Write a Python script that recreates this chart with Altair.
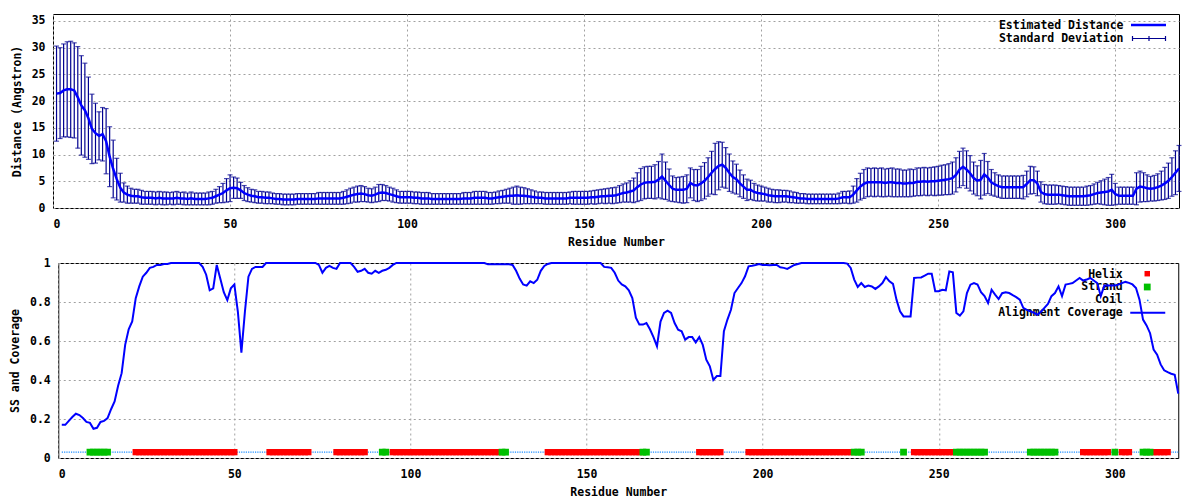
import altair as alt
import pandas as pd

# ---------------- data ----------------
RESIDUES = list(range(1, 319))

EST_DIST = [
    21.4, 21.5, 22.0, 22.2, 22.2, 22.0, 20.7, 19.2, 18.3, 16.8,
    14.8, 14.0, 13.5, 13.8, 12.5, 9.6, 7.3, 5.4, 3.8, 2.9,
    2.5, 2.3, 2.2, 2.2, 2.0, 1.9, 1.9, 1.9, 1.8, 1.9,
    1.8, 1.8, 1.8, 1.8, 1.9, 1.8, 1.8, 1.7, 1.8, 1.7,
    1.7, 1.7, 1.7, 1.8, 1.9, 2.2, 2.5, 2.8, 3.3, 3.7,
    3.8, 3.7, 3.3, 2.8, 2.5, 2.3, 2.2, 2.0, 2.0, 1.9,
    1.9, 1.8, 1.7, 1.7, 1.6, 1.6, 1.6, 1.6, 1.7, 1.7,
    1.7, 1.7, 1.7, 1.7, 1.8, 1.8, 1.8, 1.8, 1.8, 1.8,
    1.8, 1.9, 2.1, 2.3, 2.5, 2.6, 2.7, 2.6, 2.4, 2.3,
    2.5, 2.8, 2.9, 2.8, 2.6, 2.4, 2.2, 2.0, 2.0, 2.0,
    2.0, 1.9, 1.9, 1.8, 1.8, 1.8, 1.7, 1.7, 1.7, 1.7,
    1.7, 1.7, 1.7, 1.7, 1.7, 1.8, 1.8, 1.8, 1.9, 1.9,
    1.9, 1.9, 1.8, 1.8, 1.9, 2.0, 2.1, 2.2, 2.3, 2.3,
    2.4, 2.3, 2.3, 2.2, 2.1, 2.0, 1.9, 1.9, 1.8, 1.8,
    1.8, 1.8, 1.8, 1.8, 1.8, 1.9, 1.9, 1.9, 1.9, 1.9,
    1.9, 2.0, 2.0, 2.1, 2.2, 2.2, 2.3, 2.3, 2.4, 2.6,
    2.8, 2.9, 3.1, 3.3, 3.9, 4.4, 4.7, 4.8, 4.8, 4.9,
    5.3, 5.9, 5.1, 4.3, 3.6, 3.4, 3.4, 3.4, 3.6, 4.7,
    4.3, 4.2, 4.6, 5.1, 5.8, 6.6, 7.3, 7.9, 8.1, 7.5,
    6.6, 5.8, 5.4, 4.6, 4.0, 3.4, 3.4, 3.0, 2.8, 2.7,
    2.6, 2.4, 2.3, 2.2, 2.2, 2.2, 2.2, 2.1, 2.0, 1.9,
    1.8, 1.8, 1.7, 1.7, 1.7, 1.7, 1.7, 1.7, 1.7, 1.7,
    1.7, 1.8, 2.0, 2.0, 2.0, 2.5, 3.3, 4.0, 4.5, 4.8,
    4.8, 4.8, 4.8, 4.8, 4.7, 4.8, 4.8, 4.7, 4.7, 4.6,
    4.6, 4.7, 4.7, 4.9, 4.9, 5.0, 4.9, 5.0, 5.0, 5.1,
    5.2, 5.3, 5.4, 5.6, 6.2, 7.2, 7.7, 7.2, 6.5, 5.6,
    5.1, 5.3, 6.3, 5.7, 4.8, 4.4, 4.1, 3.9, 3.9, 3.9,
    3.9, 3.9, 3.9, 3.9, 4.5, 5.2, 5.2, 4.6, 3.0, 2.6,
    2.5, 2.5, 2.5, 2.5, 2.4, 2.3, 2.2, 2.2, 2.2, 2.2,
    2.2, 2.3, 2.4, 2.6, 2.8, 2.9, 3.0, 3.1, 3.4, 2.6,
    2.3, 2.3, 2.3, 2.3, 2.3, 3.6, 4.0, 3.9, 3.7, 3.6,
    3.7, 3.9, 4.2, 4.6, 5.1, 5.8, 6.6, 7.4,
]

STD_DEV = [
    8.9, 8.5, 8.7, 8.9, 9.0, 8.9, 9.5, 9.3, 8.8, 7.7,
    6.5, 5.6, 4.5, 5.0, 6.1, 5.6, 5.4, 3.9, 2.7, 1.8,
    1.6, 1.4, 1.3, 1.3, 1.3, 1.2, 1.2, 1.2, 1.2, 1.2,
    1.2, 1.2, 1.1, 1.2, 1.2, 1.1, 1.2, 1.1, 1.2, 1.1,
    1.1, 1.1, 1.1, 1.2, 1.2, 1.3, 1.5, 1.8, 2.2, 2.5,
    2.0, 1.9, 1.5, 1.4, 1.3, 1.2, 1.2, 1.1, 1.1, 1.1,
    1.1, 1.0, 1.0, 1.0, 1.0, 1.0, 1.0, 1.0, 1.0, 1.0,
    1.0, 1.0, 1.0, 1.0, 1.1, 1.1, 1.1, 1.1, 1.1, 1.1,
    1.1, 1.2, 1.3, 1.4, 1.4, 1.5, 1.5, 1.4, 1.3, 1.3,
    1.4, 1.6, 1.5, 1.4, 1.3, 1.3, 1.2, 1.1, 1.1, 1.1,
    1.1, 1.1, 1.1, 1.1, 1.1, 1.1, 1.0, 1.0, 1.0, 1.0,
    1.0, 1.0, 1.0, 1.0, 1.0, 1.1, 1.1, 1.1, 1.2, 1.2,
    1.2, 1.2, 1.1, 1.1, 1.1, 1.2, 1.2, 1.3, 1.4, 1.6,
    1.7, 1.6, 1.5, 1.4, 1.3, 1.2, 1.1, 1.1, 1.1, 1.1,
    1.1, 1.1, 1.1, 1.1, 1.1, 1.1, 1.2, 1.2, 1.2, 1.2,
    1.2, 1.2, 1.3, 1.3, 1.3, 1.4, 1.4, 1.5, 1.5, 1.6,
    1.7, 1.8, 2.0, 2.3, 2.7, 3.0, 3.0, 3.0, 3.0, 3.2,
    3.4, 4.2, 3.5, 3.0, 2.4, 2.3, 2.4, 2.5, 2.6, 2.8,
    2.9, 3.0, 3.2, 3.4, 3.6, 4.0, 4.8, 4.5, 4.2, 3.8,
    3.5, 3.0, 2.8, 2.5, 2.2, 2.0, 1.8, 1.6, 1.5, 1.4,
    1.3, 1.3, 1.2, 1.2, 1.2, 1.1, 1.1, 1.1, 1.0, 1.0,
    0.9, 0.9, 0.9, 0.9, 0.9, 0.9, 0.9, 0.9, 0.9, 0.9,
    0.9, 1.0, 1.1, 1.1, 1.2, 1.6, 2.2, 2.5, 2.7, 2.7,
    2.6, 2.7, 2.6, 2.7, 2.6, 2.6, 2.7, 2.6, 2.6, 2.5,
    2.5, 2.6, 2.5, 2.6, 2.6, 2.6, 2.6, 2.6, 2.7, 2.7,
    2.8, 2.8, 2.9, 3.0, 3.2, 3.4, 3.5, 3.5, 3.3, 3.0,
    2.8, 3.6, 3.9, 3.0, 2.4, 2.2, 2.1, 2.1, 2.1, 2.1,
    2.1, 2.1, 2.1, 2.2, 2.4, 2.6, 2.5, 2.3, 1.9, 1.8,
    1.8, 1.8, 1.8, 1.7, 1.7, 1.7, 1.7, 1.7, 1.7, 1.7,
    1.7, 1.8, 1.8, 1.9, 2.0, 2.2, 2.4, 2.6, 2.9, 2.0,
    1.6, 1.6, 1.6, 1.6, 1.6, 3.0, 2.9, 2.7, 2.5, 2.3,
    2.4, 2.5, 2.7, 3.0, 3.3, 3.6, 4.1, 4.3,
]

COVERAGE = [
    0.17, 0.17, 0.19, 0.21, 0.227, 0.22, 0.205, 0.185, 0.18, 0.15,
    0.155, 0.185, 0.19, 0.205, 0.25, 0.29, 0.37, 0.435, 0.58, 0.66,
    0.70, 0.82, 0.88, 0.93, 0.95, 0.975, 0.98, 0.99, 0.99, 0.995,
    0.995, 1, 1, 1, 1, 1, 1, 1, 1, 1,
    0.98, 0.94, 0.86, 0.87, 0.99, 0.92, 0.85, 0.81, 0.87, 0.89,
    0.75, 0.54, 0.75, 0.93, 0.97, 0.98, 0.98, 0.98, 1, 1,
    1, 1, 1, 1, 1, 1, 1, 1, 1, 1,
    1, 1, 1, 0.99, 0.95, 0.975, 0.985, 0.975, 0.97, 1,
    1, 1, 1, 0.98, 0.955, 0.96, 0.97, 0.95, 0.945, 0.96,
    0.95, 0.96, 0.965, 0.975, 0.99, 1, 1, 1, 1, 1,
    1, 1, 1, 1, 1, 1, 1, 1, 1, 1,
    1, 1, 1, 1, 1, 1, 1, 1, 1, 1,
    1, 0.993, 0.993, 0.993, 0.993, 0.993, 0.993, 0.993, 0.99, 0.96,
    0.92, 0.89, 0.884, 0.906, 0.897, 0.914, 0.96, 0.985, 0.995, 1,
    1, 1, 1, 1, 1, 1, 1, 1, 1, 1,
    1, 1, 1, 1, 0.98, 0.978, 0.975, 0.95, 0.91, 0.89,
    0.88, 0.86, 0.82, 0.72, 0.684, 0.684, 0.692, 0.66, 0.62, 0.573,
    0.70, 0.744, 0.756, 0.744, 0.692, 0.658, 0.65, 0.607, 0.62, 0.62,
    0.593, 0.62, 0.58, 0.504, 0.47, 0.40, 0.42, 0.42, 0.65, 0.71,
    0.76, 0.846, 0.872, 0.897, 0.932, 0.983, 0.986, 0.99, 0.995, 0.99,
    0.99, 0.988, 0.99, 0.99, 0.978, 0.975, 0.97, 0.98, 0.99, 0.995,
    1, 1, 1, 1, 1, 1, 1, 1, 1, 1,
    1, 1, 1, 0.997, 0.975, 0.915, 0.877, 0.897, 0.877, 0.884,
    0.88, 0.867, 0.88, 0.897, 0.928, 0.906, 0.893, 0.812, 0.752, 0.726,
    0.726, 0.726, 0.923, 0.925, 0.926, 0.935, 0.945, 0.945, 0.855, 0.855,
    0.863, 0.86, 0.957, 0.952, 0.744, 0.73, 0.752, 0.846, 0.889, 0.897,
    0.89, 0.85, 0.83, 0.795, 0.863, 0.838, 0.815, 0.845, 0.85, 0.846,
    0.835, 0.825, 0.812, 0.77, 0.76, 0.752, 0.745, 0.735, 0.75, 0.77,
    0.79, 0.83, 0.846, 0.88, 0.83, 0.889, 0.893, 0.897, 0.91, 0.923,
    0.91, 0.915, 0.923, 0.91, 0.897, 0.83, 0.884, 0.884, 0.884, 0.884,
    0.89, 0.897, 0.903, 0.898, 0.89, 0.872, 0.812, 0.71, 0.68, 0.64,
    0.556, 0.53, 0.48, 0.45, 0.44, 0.432, 0.427, 0.33,
]

# secondary structure: (type, first residue, last residue)
SS_SEGMENTS = [
    ("C", 1, 8), ("E", 9, 14), ("C", 15, 21), ("H", 22, 50), ("C", 51, 59),
    ("H", 60, 71), ("C", 72, 78), ("H", 79, 87), ("C", 88, 91), ("E", 92, 93),
    ("C", 94, 94), ("H", 95, 125), ("E", 126, 127), ("C", 128, 138),
    ("H", 139, 165), ("E", 166, 167), ("C", 168, 181), ("H", 182, 188),
    ("C", 189, 195), ("H", 196, 225), ("E", 226, 228), ("C", 229, 239),
    ("E", 240, 240), ("C", 241, 242), ("H", 243, 254), ("E", 255, 263),
    ("C", 264, 275), ("E", 276, 283), ("C", 284, 290), ("H", 291, 298),
    ("C", 299, 299), ("E", 300, 300), ("C", 301, 301), ("H", 302, 304),
    ("C", 305, 307), ("E", 308, 310), ("H", 311, 315), ("C", 316, 318),
]
SS_LEVEL = 0.03

X_TICKS = [0, 50, 100, 150, 200, 250, 300]
Y_TICKS_TOP = [0, 5, 10, 15, 20, 25, 30, 35]
Y_TICKS_BOT = [0, 0.2, 0.4, 0.6, 0.8, 1]

# ---------------- styling ----------------
FONT = "DejaVu Sans Mono"
FS = 11.5
BLUE = "#0000ff"
NAVY = "#000090"
RED = "#ff0000"
GREEN = "#00c000"
COIL = "#1a8cff"

ss = []
for t, a, b in SS_SEGMENTS:
    ss += [t] * (b - a + 1)

top_df = pd.DataFrame({"res": RESIDUES, "dist": EST_DIST, "sd": STD_DEV})
top_df["lo"] = top_df["dist"] - top_df["sd"]
top_df["hi"] = top_df["dist"] + top_df["sd"]
bot_df = pd.DataFrame({"res": RESIDUES, "cov": COVERAGE, "ss": ss, "lvl": SS_LEVEL})


def one(label):
    return pd.DataFrame({"t": [label]})


W_TOP, H_TOP = 1126, 194
W_BOT, H_BOT = 1120, 195

xaxis = alt.Axis(values=X_TICKS, title="Residue Number", labelPadding=10,
                 titlePadding=7, ticks=False, domain=False)

x_top = alt.X("res:Q", scale=alt.Scale(domain=[0, 318], nice=False), axis=xaxis)
y_scale_top = alt.Scale(domain=[0, 36.3], nice=False)
y_axis_top = alt.Axis(values=Y_TICKS_TOP, title="Distance (Angstron)",
                      labelPadding=8, titlePadding=9, ticks=False,
                      domain=False, labelFlush=False)

base_top = alt.Chart(top_df)
bars = base_top.mark_rule(color=NAVY, strokeWidth=1.2).encode(
    x=x_top,
    y=alt.Y("lo:Q", scale=y_scale_top, axis=y_axis_top),
    y2="hi:Q",
)
cap_hi = base_top.mark_tick(orient="horizontal", size=5, thickness=1.2, color=NAVY).encode(
    x=x_top, y=alt.Y("hi:Q", scale=y_scale_top, axis=y_axis_top))
cap_lo = base_top.mark_tick(orient="horizontal", size=5, thickness=1.2, color=NAVY).encode(
    x=x_top, y=alt.Y("lo:Q", scale=y_scale_top, axis=y_axis_top))
mean_line = base_top.mark_line(color=BLUE, strokeWidth=2.5).encode(
    x=x_top, y=alt.Y("dist:Q", scale=y_scale_top, axis=y_axis_top))

txt = dict(font=FONT, fontSize=FS, fontWeight="bold", align="right",
           baseline="middle", color="black")
leg_top = [
    alt.Chart(one("Estimated Distance")).mark_text(**txt).encode(
        text="t:N", x=alt.value(1070.5), y=alt.value(11.5)),
    alt.Chart(one("Standard Deviation")).mark_text(**txt).encode(
        text="t:N", x=alt.value(1070.5), y=alt.value(24.5)),
    alt.Chart(one("l")).mark_rule(color=BLUE, strokeWidth=2.5).encode(
        x=alt.value(1078), x2=alt.value(1113), y=alt.value(11)),
    alt.Chart(one("e")).mark_rule(color=NAVY, strokeWidth=1.2).encode(
        x=alt.value(1079.5), x2=alt.value(1112.5), y=alt.value(24.5)),
    alt.Chart(one("e1")).mark_rule(color=NAVY, strokeWidth=1.2).encode(
        x=alt.value(1079.5), y=alt.value(22), y2=alt.value(27)),
    alt.Chart(one("e2")).mark_rule(color=NAVY, strokeWidth=1.2).encode(
        x=alt.value(1096), y=alt.value(22), y2=alt.value(27)),
    alt.Chart(one("e3")).mark_rule(color=NAVY, strokeWidth=1.2).encode(
        x=alt.value(1112.5), y=alt.value(22), y2=alt.value(27)),
    # invisible spacer that nudges the centred top panel to the left
    alt.Chart(one("sp")).mark_rule(color="white", strokeWidth=1, opacity=0).encode(
        x=alt.value(W_TOP + 8.5), y=alt.value(0), y2=alt.value(2)),
]

top = alt.layer(bars, cap_hi, cap_lo, mean_line, *leg_top).properties(
    width=W_TOP, height=H_TOP)

# ---------------- bottom panel ----------------
x_bot = alt.X("res:Q", scale=alt.Scale(domain=[0, 318], nice=False), axis=xaxis)
y_scale_bot = alt.Scale(domain=[0, 1], nice=False)
y_axis_bot = alt.Axis(values=Y_TICKS_BOT, title="SS and Coverage", format="~g",
                      labelPadding=8, titlePadding=9, ticks=False,
                      domain=False, labelFlush=False)

base_bot = alt.Chart(bot_df)
coil = base_bot.mark_rule(color=COIL, strokeWidth=1.3, strokeDash=[1.2, 1.1]).encode(
    x=alt.X("min(res):Q", scale=alt.Scale(domain=[0, 318], nice=False), axis=xaxis),
    x2="max(res):Q",
    y=alt.Y("mean(lvl):Q", scale=y_scale_bot, axis=y_axis_bot),
)
helix = base_bot.transform_filter(alt.datum.ss == "H").mark_square(
    color=RED, size=40, opacity=1).encode(
    x=x_bot, y=alt.Y("lvl:Q", scale=y_scale_bot, axis=y_axis_bot))
strand = base_bot.transform_filter(alt.datum.ss == "E").mark_square(
    color=GREEN, size=46, opacity=1).encode(
    x=x_bot, y=alt.Y("lvl:Q", scale=y_scale_bot, axis=y_axis_bot))
cov_line = base_bot.mark_line(color=BLUE, strokeWidth=2).encode(
    x=x_bot, y=alt.Y("cov:Q", scale=y_scale_bot, axis=y_axis_bot))

leg_bot = [
    alt.Chart(one("Helix")).mark_text(**txt).encode(
        text="t:N", x=alt.value(1064.5), y=alt.value(11.7)),
    alt.Chart(one("Strand")).mark_text(**txt).encode(
        text="t:N", x=alt.value(1064.5), y=alt.value(24.4)),
    alt.Chart(one("Coil")).mark_text(**txt).encode(
        text="t:N", x=alt.value(1064.5), y=alt.value(37.2)),
    alt.Chart(one("Alignment Coverage")).mark_text(**txt).encode(
        text="t:N", x=alt.value(1064.5), y=alt.value(50)),
    alt.Chart(one("h")).mark_square(color=RED, size=30, opacity=1).encode(
        x=alt.value(1089), y=alt.value(10.7)),
    alt.Chart(one("s")).mark_square(color=GREEN, size=46, opacity=1).encode(
        x=alt.value(1089), y=alt.value(24)),
    alt.Chart(one("c")).mark_circle(color=COIL, size=3, opacity=1).encode(
        x=alt.value(1089.5), y=alt.value(37.4)),
    alt.Chart(one("a")).mark_rule(color=BLUE, strokeWidth=2).encode(
        x=alt.value(1072), x2=alt.value(1107), y=alt.value(49.7)),
]

bottom = alt.layer(*leg_bot[:4], coil, helix, strand, cov_line, *leg_bot[4:]).properties(
    width=W_BOT, height=H_BOT)

chart = alt.vconcat(top, bottom, spacing=7, center=True).properties(
    padding={"top": 5, "left": 0, "right": 0, "bottom": 0}
).configure_view(
    stroke="black", strokeWidth=1
).configure_axis(
    labelFont=FONT, labelFontSize=FS, labelFontWeight="bold", labelColor="black",
    titleFont=FONT, titleFontSize=FS, titleFontWeight="bold", titleColor="black",
    grid=True, gridColor="#a0a0a0", gridDash=[2, 3], gridWidth=1,
)

chart.save("out.html", embed_options={"renderer": "svg", "actions": False})
